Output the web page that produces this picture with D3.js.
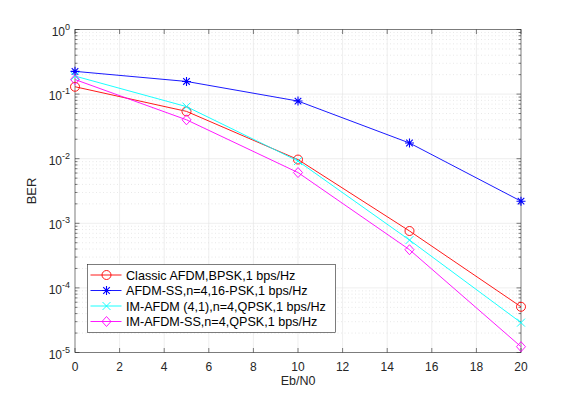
<!DOCTYPE html>
<html><head><meta charset="utf-8">
<script src="https://cdn.jsdelivr.net/npm/d3@7"></script>
<style>body{margin:0;background:#fff;}svg{display:block;font-family:"Liberation Sans",Arial,sans-serif;}</style>
</head><body><svg id="c" width="576" height="396"></svg>
<script>
const snr = [0, 5, 10, 15, 20];
const classicAFDM = [0.13, 0.054, 0.0097, 7.6e-4, 5.1e-5];
const afdmSS = [0.225, 0.157, 0.078, 0.0175, 2.2e-3];
const imAFDM = [0.19, 0.064, 0.0092, 5.5e-4, 2.9e-5];
const imAFDMSS = [0.168, 0.040, 0.0061, 3.9e-4, 1.23e-5];
const seriesNames = ["Classic AFDM,BPSK,1 bps/Hz","AFDM-SS,n=4,16-PSK,1 bps/Hz","IM-AFDM (4,1),n=4,QPSK,1 bps/Hz","IM-AFDM-SS,n=4,QPSK,1 bps/Hz"];
const seriesColors = ["#ff0000","#0000ff","#00ffff","#ff00ff"];
const seriesMarkers = ["circle","star","x","diamond"];
const xTicks = [0,2,4,6,8,10,12,14,16,18,20];
const yTickExps = [0,-1,-2,-3,-4,-5];

const svg = d3.select("#c");
const L=75, R=521, T=29.5, B=352.5;
const x = d3.scaleLinear().domain([0,20]).range([L,R]);
const y = d3.scaleLog().domain([1e-5,1]).range([B,T]);

// grid
const g = svg.append("g");
for(let e=-5;e<0;e++){
  for(let m=2;m<=9;m++){
    const v=m*Math.pow(10,e);
    g.append("line").attr("x1",L).attr("x2",R).attr("y1",y(v)).attr("y2",y(v))
      .attr("stroke","#d8d8d8").attr("stroke-width",0.6).attr("stroke-dasharray","1,2.5");
  }
}
xTicks.forEach(t=>{ if(t>0&&t<20) g.append("line").attr("x1",x(t)).attr("x2",x(t)).attr("y1",T).attr("y2",B).attr("stroke","#e3e3e3").attr("stroke-width",0.6);});
yTickExps.forEach(e=>{ const v=Math.pow(10,e); if(e<0&&e>-5) g.append("line").attr("x1",L).attr("x2",R).attr("y1",y(v)).attr("y2",y(v)).attr("stroke","#e3e3e3").attr("stroke-width",0.6);});

// axes box & ticks
const ax = svg.append("g").attr("stroke","#262626").attr("stroke-width",0.6);
ax.append("rect").attr("x",L).attr("y",T).attr("width",R-L).attr("height",B-T).attr("fill","none");
xTicks.forEach(t=>{
  ax.append("line").attr("x1",x(t)).attr("x2",x(t)).attr("y1",B).attr("y2",B-4.5);
  ax.append("line").attr("x1",x(t)).attr("x2",x(t)).attr("y1",T).attr("y2",T+4.5);
});
yTickExps.forEach(e=>{
  const v=Math.pow(10,e);
  ax.append("line").attr("x1",L).attr("x2",L+4.5).attr("y1",y(v)).attr("y2",y(v));
  ax.append("line").attr("x1",R).attr("x2",R-4.5).attr("y1",y(v)).attr("y2",y(v));
});
for(let e=-5;e<0;e++){
  for(let m=2;m<=9;m++){
    const v=m*Math.pow(10,e);
    ax.append("line").attr("x1",L).attr("x2",L+2.5).attr("y1",y(v)).attr("y2",y(v));
    ax.append("line").attr("x1",R).attr("x2",R-2.5).attr("y1",y(v)).attr("y2",y(v));
  }
}
// tick labels
xTicks.forEach(t=>{
  svg.append("text").attr("x",x(t)).attr("y",B+18).attr("text-anchor","middle").attr("font-size",12).attr("fill","#262626").text(t);
});
yTickExps.forEach(e=>{
  const t=svg.append("text").attr("x",L-5).attr("y",y(Math.pow(10,e))+6).attr("text-anchor","end").attr("font-size",12).attr("fill","#262626");
  t.append("tspan").text("10");
  t.append("tspan").attr("dy",-6).attr("font-size",9).text(e);
});
svg.append("text").attr("x",(L+R)/2).attr("y",385).attr("text-anchor","middle").attr("font-size",12.5).attr("fill","#262626").text("Eb/N0");
svg.append("text").attr("transform",`translate(36,${(T+B)/2}) rotate(-90)`).attr("text-anchor","middle").attr("font-size",13).attr("fill","#262626").text("BER");

function marker(sel,type,cx,cy,color){
  if(type==="circle") sel.append("circle").attr("cx",cx).attr("cy",cy).attr("r",4.5).attr("fill","none").attr("stroke",color).attr("stroke-width",0.9);
  else if(type==="diamond") sel.append("path").attr("d",`M${cx},${cy-5}L${cx+4.5},${cy}L${cx},${cy+5}L${cx-4.5},${cy}Z`).attr("fill","none").attr("stroke",color).attr("stroke-width",0.9);
  else if(type==="x") sel.append("path").attr("d",`M${cx-4},${cy-4}L${cx+4},${cy+4}M${cx-4},${cy+4}L${cx+4},${cy-4}`).attr("stroke",color).attr("stroke-width",0.9);
  else if(type==="star") sel.append("path").attr("d",`M${cx-4.5},${cy}L${cx+4.5},${cy}M${cx},${cy-4.5}L${cx},${cy+4.5}M${cx-3.3},${cy-3.3}L${cx+3.3},${cy+3.3}M${cx-3.3},${cy+3.3}L${cx+3.3},${cy-3.3}`).attr("stroke",color).attr("stroke-width",1.1);
}
const allData=[classicAFDM,afdmSS,imAFDM,imAFDMSS];
const line=d3.line().x(d=>x(d[0])).y(d=>y(d[1]));
allData.forEach((arr,i)=>{
  const pts=snr.map((s,j)=>[s,arr[j]]);
  const sg=svg.append("g");
  sg.append("path").attr("d",line(pts)).attr("fill","none").attr("stroke",seriesColors[i]).attr("stroke-width",0.9);
  pts.forEach(p=>marker(sg,seriesMarkers[i],x(p[0]),y(p[1]),seriesColors[i]));
});

// legend
const lg=svg.append("g");
const lx=87.5, ly=264.5, lw=248, lh=68;
lg.append("rect").attr("x",lx).attr("y",ly).attr("width",lw).attr("height",lh).attr("fill","#fff").attr("stroke","#262626").attr("stroke-width",0.6);
seriesNames.forEach((n,i)=>{
  const yy=ly+10.5+i*15.5;
  lg.append("line").attr("x1",lx+3).attr("x2",lx+34).attr("y1",yy).attr("y2",yy).attr("stroke",seriesColors[i]).attr("stroke-width",0.9);
  marker(lg,seriesMarkers[i],lx+19,yy,seriesColors[i]);
  lg.append("text").attr("x",lx+38.5).attr("y",yy+4.5).attr("font-size",12.6).attr("fill","#000").text(n);
});
</script></body></html>
